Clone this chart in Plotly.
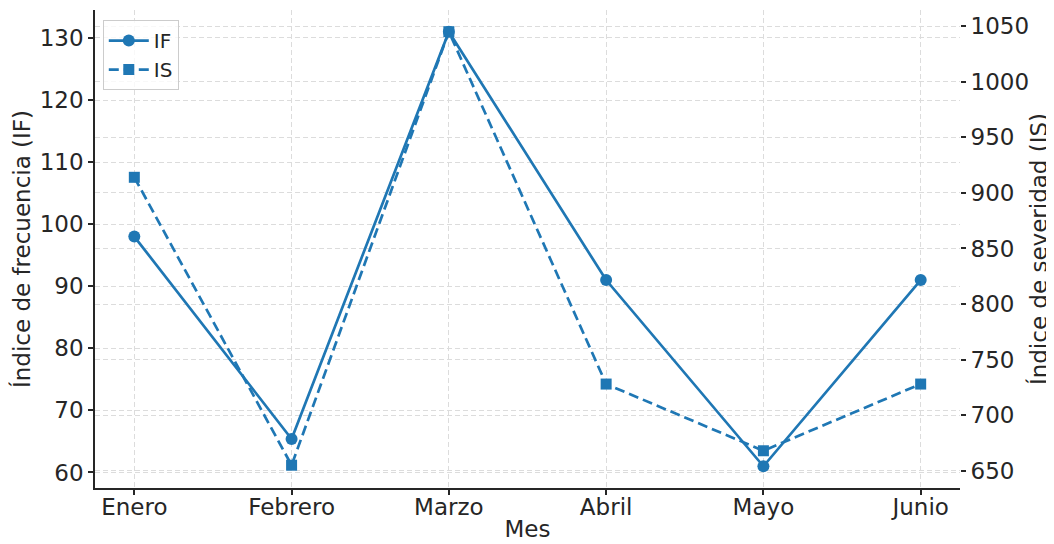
import plotly.graph_objects as go

meses = ["Enero", "Febrero", "Marzo", "Abril", "Mayo", "Junio"]
indice_frecuencia = [98, 65.4, 131, 91, 61, 91]
indice_severidad = [914, 655, 1045, 728, 668, 728]

color = "#1f77b4"
txt = "#262626"
font_family = "DejaVu Sans"
fs = 23

fig = go.Figure()
fig.add_trace(go.Scatter(
    x=meses, y=indice_frecuencia, name="IF", mode="lines+markers",
    line=dict(color=color, width=2.7), marker=dict(symbol="circle", size=12, color=color),
    yaxis="y"))
fig.add_trace(go.Scatter(
    x=meses, y=indice_severidad, name="IS", mode="lines+markers",
    line=dict(color=color, width=2.7, dash="10px,5px"), marker=dict(symbol="square", size=11, color=color),
    yaxis="y2"))

grid = dict(showgrid=True, gridcolor="#dcdcdc", griddash="5px,3px", gridwidth=1)

# page body has an 8px margin, so the figure is sized to fit the window
fig.update_layout(
    width=1046, height=536,
    margin=dict(l=87, r=94, t=2, b=56),
    paper_bgcolor="white", plot_bgcolor="white",
    font=dict(family=font_family, size=fs, color=txt),
    showlegend=True,
    legend=dict(x=0.009, y=0.979, xanchor="left", yanchor="top",
                bgcolor="rgba(255,255,255,0.8)", bordercolor="#cccccc", borderwidth=1,
                font=dict(size=20, color=txt), itemwidth=40, tracegroupgap=0),
    xaxis=dict(
        type="category", range=[-0.25, 5.25], automargin=False,
        title=dict(text="Mes", font=dict(size=fs), standoff=2),
        showline=True, linecolor=txt, linewidth=1.5, mirror=False,
        ticks="outside", ticklen=5, tickcolor=txt, tickwidth=1.5,
        ticklabelstandoff=-7,
        zeroline=False, **grid),
    yaxis=dict(
        range=[57.5, 134.5], dtick=10, automargin=False,
        title=dict(text="Índice de frecuencia (IF)", font=dict(size=fs), standoff=4),
        showline=True, linecolor=txt, linewidth=1.5,
        ticks="outside", ticklen=5, tickcolor=txt, tickwidth=1.5,
        zeroline=False, **grid),
    yaxis2=dict(
        range=[634.5, 1064.5], dtick=50, overlaying="y", side="right", automargin=False,
        title=dict(text="Índice de severidad (IS)", font=dict(size=fs), standoff=2),
        showline=False,
        ticks="outside", ticklen=5, tickcolor=txt, tickwidth=1.5,
        zeroline=False, **grid),
)

fig.write_html("out.html")
